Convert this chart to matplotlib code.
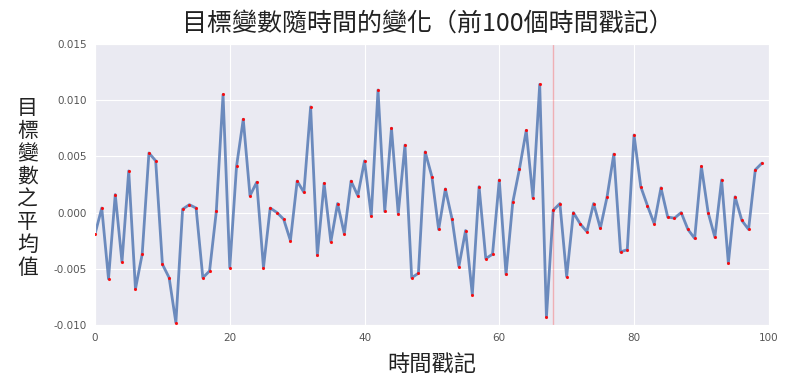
import matplotlib
matplotlib.use("Agg")
import matplotlib.pyplot as plt
import seaborn as sns
import numpy as np

time_index = list(range(100))
mean_values = [
    -0.0019, 0.0004, -0.0059, 0.0016, -0.0044, 0.0037, -0.0068, -0.0037, 0.0053, 0.0046,
    -0.0046, -0.0058, -0.0098, 0.0003, 0.0007, 0.0004, -0.0058, -0.0052, 0.0001, 0.0105,
    -0.0049, 0.0041, 0.0083, 0.0015, 0.0027, -0.0049, 0.0004, 0.0000, -0.0006, -0.0025,
    0.0028, 0.0018, 0.0094, -0.0038, 0.0026, -0.0026, 0.0008, -0.0019, 0.0028, 0.0015,
    0.0046, -0.0003, 0.0109, 0.0001, 0.0075, -0.0001, 0.0060, -0.0058, -0.0054, 0.0054,
    0.0032, -0.0015, 0.0021, -0.0006, -0.0048, -0.0016, -0.0073, 0.0023, -0.0041, -0.0037,
    0.0029, -0.0055, 0.0009, 0.0039, 0.0073, 0.0013, 0.0114, -0.0093, 0.0002, 0.0008,
    -0.0057, 0.0000, -0.0010, -0.0017, 0.0008, -0.0014, 0.0014, 0.0052, -0.0035, -0.0033,
    0.0069, 0.0023, 0.0006, -0.0010, 0.0022, -0.0004, -0.0005, 0.0000, -0.0015, -0.0023,
    0.0041, 0.0000, -0.0022, 0.0029, -0.0045, 0.0014, -0.0007, -0.0015, 0.0038, 0.0044,
]
marker_x = 68
y_ticks = [-0.010, -0.005, 0.000, 0.005, 0.010, 0.015]
x_ticks = [0, 20, 40, 60, 80, 100]

title = "目標變數隨時間的變化（前100個時間戳記）"
xlabel = "時間戳記"
ylabel = "目標變數之平均值"

sns.set_style("darkgrid")
plt.rcParams['font.family'] = ['Noto Sans CJK TC', 'DejaVu Sans']

fig = plt.figure(figsize=(7.88, 3.92), dpi=100)
ax = fig.add_axes([0.1206, 0.171, 0.855, 0.717])
ax.plot(time_index, mean_values, color='#4c72b0', alpha=0.8, lw=2.0, zorder=2)
ax.scatter(time_index, mean_values, color='red', s=5, alpha=0.9, zorder=3, linewidths=0)
ax.axvline(marker_x, color='red', alpha=0.25, lw=1)
ax.set_xlim(0, 100)
ax.set_ylim(-0.010, 0.015)
ax.set_xticks(x_ticks)
ax.set_yticks(y_ticks)
ax.set_yticklabels([f"{v:.3f}" for v in y_ticks])
ax.tick_params(labelsize=7.5, colors='#555555', length=0, pad=6)
for lab in ax.get_xticklabels() + ax.get_yticklabels():
    lab.set_family(['DejaVu Sans'])

fig.text(0.543, 0.939, title, ha='center', va='center', fontsize=18, color='#222222')
fig.text(0.548, 0.07, xlabel, ha='center', va='center', fontsize=16, color='#222222')
fig.text(0.035, 0.52, "\n".join(ylabel), ha='center', va='center', fontsize=15,
         color='#222222', linespacing=1.05)

fig.savefig("out.png", dpi=100)
